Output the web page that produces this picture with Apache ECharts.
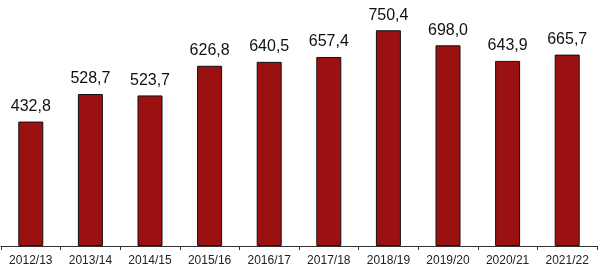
<!DOCTYPE html>
<html><head><meta charset="utf-8">
<script src="https://cdn.jsdelivr.net/npm/echarts@6/dist/echarts.min.js"></script>
<style>html,body{margin:0;padding:0;background:#fff}#c{width:599px;height:268px}</style>
</head><body><div id="c"></div>
<script>
const categories = ['2012/13','2013/14','2014/15','2015/16','2016/17','2017/18','2018/19','2019/20','2020/21','2021/22'];
const values = [432.8, 528.7, 523.7, 626.8, 640.5, 657.4, 750.4, 698.0, 643.9, 665.7];
const chart = echarts.init(document.getElementById('c'));
chart.setOption({
  animation: false,
  grid: {left: 1, right: 2, top: 16, bottom: 22},
  xAxis: {
    type: 'category', data: categories,
    axisLine: {lineStyle: {color: '#333', width: 1}},
    axisTick: {show: true, length: 4, lineStyle: {color: '#333'}},
    axisLabel: {color: '#222', fontFamily: 'Liberation Sans, Arial', fontSize: 12, margin: 9}
  },
  yAxis: {type: 'value', min: 0, max: 800, show: false, splitLine: {show: false}},
  series: [{
    type: 'bar', data: values, barWidth: 25,
    itemStyle: {color: '#9b1111', borderColor: '#111', borderWidth: 1},
    label: {
      show: true, position: 'top', distance: 7,
      color: '#111', fontFamily: 'Liberation Sans, Arial', fontSize: 16,
      formatter: p => p.value.toFixed(1).replace('.', ',')
    }
  }]
});
</script></body></html>
